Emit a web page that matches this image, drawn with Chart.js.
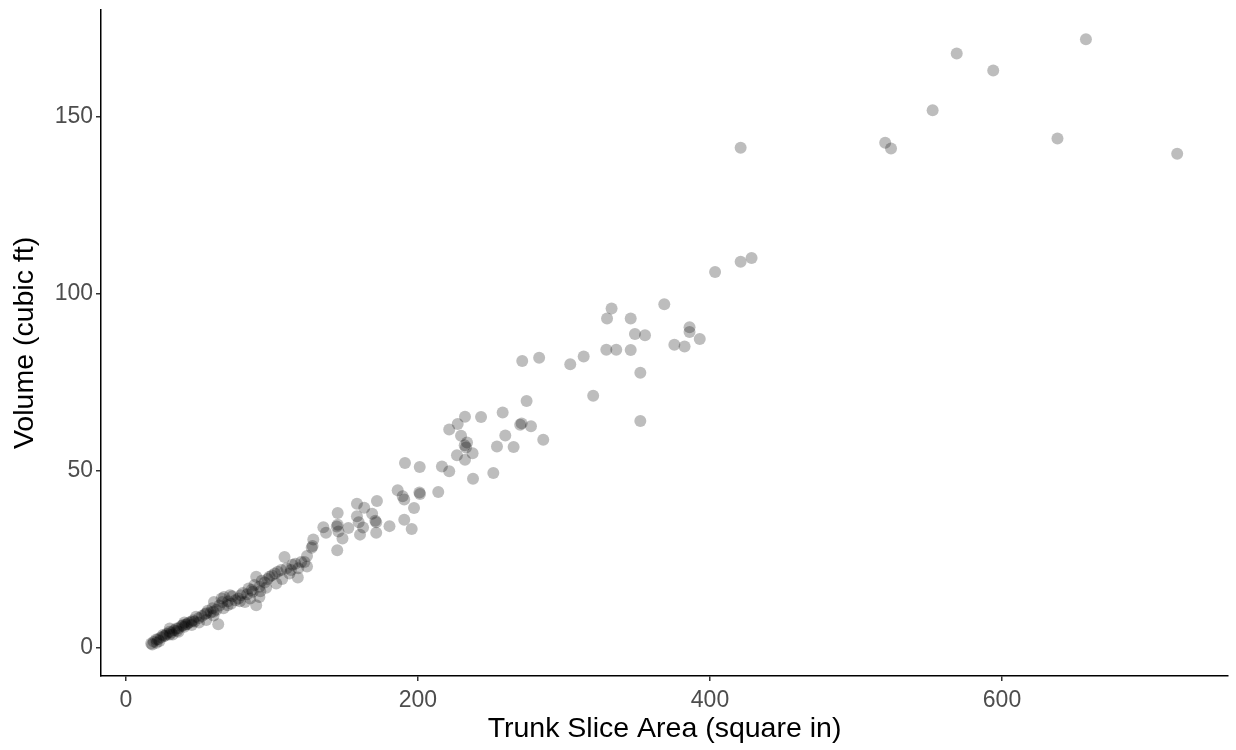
<!DOCTYPE html>
<html>
<head>
<meta charset="utf-8">
<script src="https://cdn.jsdelivr.net/npm/chart.js@4"></script>
<style>
  html, body { margin: 0; padding: 0; background: #ffffff; }
  #wrap { width: 1236px; height: 750px; }
</style>
</head>
<body>
<div id="wrap"><canvas id="trees" width="1236" height="750"></canvas></div>
<script>
// Trunk slice area (square in) vs volume (cubic ft)
const sliceArea = [
  657.5, 569, 594, 552.5, 421, 520, 524, 638, 720, 421, 428.5, 403.5,
  368.7, 332.6, 329.5, 345.7, 348.6, 355.5, 386, 386, 393, 375.6, 382.6, 329, 335.8, 345.7, 352.3,
  283, 271.4, 304.3, 313.5, 320, 274.4, 352.3, 258, 271, 270, 277.4,
  243.2, 232.2, 227.2, 221.4, 285.8, 259.8, 254.1, 265.5, 229.5, 233.6, 232.9, 232, 237.4, 226.7, 232.2,
  251.6, 237.7, 216.4, 221.4, 191.1, 201.2, 186.1, 189.5, 201.4, 201, 213.9,
  190.6, 197.3, 190.6, 195.7, 171.9, 158.2, 163.2, 145, 168.6, 158.2, 171.4, 170.8, 180.5, 159.4, 162.4,
  152.3, 144.4, 145, 145.5, 135.2, 137, 160.3, 171.4, 148.3, 144.7, 128.3, 127.2, 127.8,
  124, 120, 116, 114, 108.6, 122.3, 106.3, 112, 117.7, 98.3, 89.2, 102.9, 91.4, 86.8, 86, 78.6, 72.9,
  91.4, 67.2, 81.5, 60.3, 69.6, 89.2, 59.2, 63.2, 65.5, 71.3, 59.9, 66.8, 55, 48, 44.8, 39, 34.5,
  29.8, 25.3, 20.7, 17.3, 19, 22, 24, 26, 28, 31, 33, 36, 38, 41, 43, 46, 50, 52, 56, 62, 75, 80,
  84, 95, 100, 104, 110, 21, 18, 23, 27, 30, 35, 40, 42, 47, 54, 58, 64, 70, 77, 83, 88, 93, 97,
  30, 32, 36, 40, 45, 50, 55, 60, 66, 72, 78, 85, 92, 96, 102, 107, 113, 118, 124
];
const volume = [
  171.8, 167.8, 163, 151.8, 141.2, 142.6, 141, 143.8, 139.5, 109, 110.1, 106.1,
  97, 95.8, 93, 93, 88.6, 88.3, 90.5, 89.2, 87.2, 85.6, 85.1, 84.2, 84.2, 84.1, 77.7,
  81.9, 81, 80.1, 82.3, 71.2, 69.7, 64.1, 66.5, 63.4, 63, 62.6,
  65.2, 65.3, 63.2, 61.7, 58.8, 60, 56.9, 56.7, 59.9, 58, 56.6, 57.2, 55, 54.4, 53.1,
  49.4, 47.8, 51.2, 49.9, 52.2, 51.1, 44.5, 42.8, 43.5, 43.9, 44,
  41.9, 39.5, 36.2, 33.6, 41.5, 40.7, 39.6, 38.1, 37.9, 37.2, 35.5, 35.9, 34.4, 35.5, 34,
  33.9, 34.3, 34.8, 32.9, 34.1, 32.5, 32, 32.5, 30.9, 27.6, 30.6, 28.3, 28.8,
  26, 24.3, 23.8, 23.5, 25.7, 24.3, 22, 21, 19.9, 20.1, 20.1, 18.2, 17.3, 15.9, 16.4, 14.9, 14.6,
  14.4, 14.4, 13, 13, 12.1, 12.1, 11.2, 6.7, 14, 14.9, 10.2, 11.2, 7.9, 8.8, 7.4, 6.5, 5.5,
  4.6, 3.7, 2.4, 1.3, 1.8, 2.5, 3, 3.3, 4, 4.4, 5, 5.6, 6.2, 6.6, 7.2, 7.8, 8.5, 9, 10.5, 10.8, 13.5, 15.5,
  16.8, 18.5, 20.5, 21.5, 22.5, 1.5, 1.0, 2.0, 3.5, 3.8, 4.9, 6, 6.8, 7.5, 9.5, 10, 12, 13.2, 14, 15.2, 17.8, 19, 19.5,
  5.5, 3.8, 4.6, 7.2, 6.5, 7.2, 9.8, 9.2, 13, 12.5, 13.2, 14, 16, 17, 21, 19.5, 22, 22.5, 23
];
const xTicks = [0, 200, 400, 600];
const yTicks = [0, 50, 100, 150];

const points = sliceArea.map((x, i) => ({ x: x, y: volume[i] }));

const fontFamily = 'Liberation Sans, Arial, sans-serif';
const titleFont = { family: fontFamily, size: 28.5 };

new Chart(document.getElementById('trees').getContext('2d'), {
    type: 'scatter',
    data: {
        datasets: [{
            data: points,
            backgroundColor: 'rgba(0, 0, 0, 0.26)',
            borderWidth: 0,
            pointRadius: 6,
            pointHoverRadius: 6
        }]
    },
    options: {
        responsive: false,
        animation: false,
        layout: { padding: { top: 8, right: 8, left: 0, bottom: 0 } },
        plugins: { legend: { display: false }, tooltip: { enabled: false } },
        scales: {
            x: {
                type: 'linear',
                min: -17.1,
                max: 754.8,
                afterBuildTicks: s => { s.ticks = xTicks.map(v => ({ value: v })); },
                afterFit: s => { s.height = 74; },
                grid: { display: true, drawOnChartArea: false, drawTicks: true, tickLength: 5, color: '#333333', lineWidth: 1.5 },
                border: { display: true, color: '#000000', width: 1.5 },
                ticks: { color: '#4d4d4d', font: { family: fontFamily, size: 23 }, padding: 6, maxRotation: 0 },
                title: { display: true, text: 'Trunk Slice Area (square in)', color: '#000000', font: titleFont, padding: { top: 0, bottom: 4 } }
            },
            y: {
                type: 'linear',
                min: -7.9,
                max: 180.1,
                afterBuildTicks: s => { s.ticks = yTicks.map(v => ({ value: v })); },
                afterFit: s => { s.width = 101; },
                grid: { display: true, drawOnChartArea: false, drawTicks: true, tickLength: 5, color: '#333333', lineWidth: 1.5 },
                border: { display: true, color: '#000000', width: 1.5 },
                ticks: { color: '#4d4d4d', font: { family: fontFamily, size: 23, lineHeight: 0.6 }, padding: 3 },
                title: { display: true, text: 'Volume (cubic ft)', color: '#000000', font: titleFont, padding: { top: 8, bottom: 0 } }
            }
        }
    }
});
</script>
</body>
</html>
